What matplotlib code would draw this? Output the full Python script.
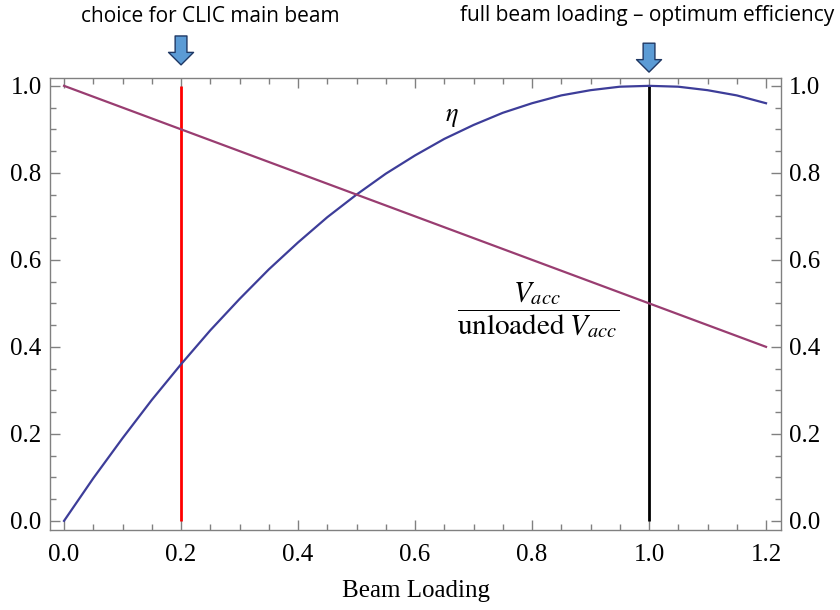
import numpy as np
import matplotlib
matplotlib.use('Agg')
import matplotlib.pyplot as plt
import matplotlib.ticker as ticker

# values
loading = [0.00, 0.05, 0.10, 0.15, 0.20, 0.25, 0.30, 0.35, 0.40, 0.45, 0.50, 0.55,
           0.60, 0.65, 0.70, 0.75, 0.80, 0.85, 0.90, 0.95, 1.00, 1.05, 1.10, 1.15, 1.20]
eta = [0.000, 0.098, 0.190, 0.278, 0.360, 0.438, 0.510, 0.578, 0.640, 0.698, 0.750, 0.798,
       0.840, 0.878, 0.910, 0.938, 0.960, 0.978, 0.990, 0.998, 1.000, 0.998, 0.990, 0.978, 0.960]
vacc_x = [0.0, 0.2, 0.5, 1.0, 1.2]
vacc_ratio = [1.00, 0.90, 0.75, 0.50, 0.40]

clic_choice = 0.2
full_loading = 1.0

xticks = [0.0, 0.2, 0.4, 0.6, 0.8, 1.0, 1.2]
yticks = [0.0, 0.2, 0.4, 0.6, 0.8, 1.0]

# styles
blue = (0.24, 0.24, 0.6)
purple = (0.6, 0.24, 0.442)
frame = '#808080'
tam = 18
lw = 1.6

plt.rcParams['font.family'] = 'Liberation Serif'
plt.rcParams['mathtext.fontset'] = 'stix'

fig = plt.figure(figsize=(8.4, 6.1), dpi=100)
ax = fig.add_axes([50/840, 1-530/610, (781-50)/840, (530-78)/610])

ax.plot(loading, eta, color=blue, lw=lw, zorder=3)
ax.plot(vacc_x, vacc_ratio, color=purple, lw=lw, zorder=3)
ax.vlines(clic_choice, 0, 1, color='red', lw=2, zorder=2)
ax.vlines(full_loading, 0, 1, color='black', lw=2, zorder=2)

ax.set_xlim(-0.024, 1.2256)
ax.set_ylim(-0.021, 1.018)

# Mathematica style frame
for s in ['top', 'bottom', 'left', 'right']:
    ax.spines[s].set_color(frame)
    ax.spines[s].set_linewidth(1.0)
ax.set_xticks(xticks)
ax.set_yticks(yticks)
ax.xaxis.set_minor_locator(ticker.MultipleLocator(0.05))
ax.yaxis.set_minor_locator(ticker.MultipleLocator(0.05))
ax.xaxis.set_major_formatter(ticker.StrMethodFormatter('{x:.1f}'))
ax.yaxis.set_major_formatter(ticker.StrMethodFormatter('{x:.1f}'))
ax.tick_params(which='both', direction='in', color=frame, top=True, right=True,
               labelright=True, labelsize=tam)
ax.tick_params(which='major', length=7, width=1.0)
ax.tick_params(which='minor', length=4, width=1.0)
ax.tick_params(axis='y', which='major', pad=6)
ax.tick_params(axis='x', which='major', pad=10)
ax.set_xlabel('Beam Loading', fontsize=tam, labelpad=10)

# curve labels
ax.text(0.663, 0.926, r'$\eta$', fontsize=tam + 1, ha='center', va='center')
ax.text(0.81, 0.485, r'$\dfrac{V_{acc}}{\mathrm{unloaded}\;V_{acc}}$', fontsize=21,
        ha='center', va='center')

# annotations with block arrows above the frame
arrow = dict(arrowstyle='simple,head_width=1.8,head_length=0.9,tail_width=0.85',
             fc='#5B9BD5', ec='#1F3864', lw=1.0, shrinkA=0, shrinkB=0,
             mutation_scale=10)
ax.annotate('', xy=(clic_choice, 1.029), xytext=(clic_choice, 1.093),
            xycoords=('data', 'axes fraction'), textcoords=('data', 'axes fraction'),
            arrowprops=arrow, annotation_clip=False)
ax.annotate('', xy=(full_loading, 1.013), xytext=(full_loading, 1.077),
            xycoords=('data', 'axes fraction'), textcoords=('data', 'axes fraction'),
            arrowprops=arrow, annotation_clip=False)
fig.text(210/840, 1-16/610, 'choice for CLIC main beam', family='Open Sans',
         fontsize=15, ha='center', va='center')
fig.text(647/840, 1-16/610, 'full beam loading \u2013 optimum efficiency', family='Open Sans',
         fontsize=15, ha='center', va='center')

fig.savefig('out.png', dpi=100)
